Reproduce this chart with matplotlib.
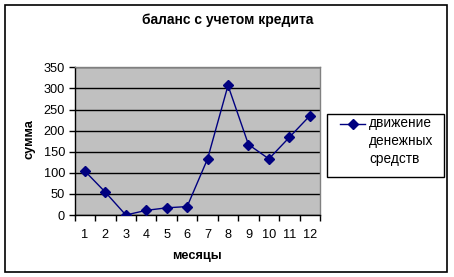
import matplotlib
matplotlib.use("Agg")
import matplotlib.pyplot as plt
from matplotlib.patches import Rectangle
from matplotlib.lines import Line2D

plt.rcParams['font.family'] = ['Liberation Sans', 'DejaVu Sans']

months = [1, 2, 3, 4, 5, 6, 7, 8, 9, 10, 11, 12]
values = [104, 54, 0, 11, 17, 20, 133, 307, 167, 133, 184, 235]
yticks = [0, 50, 100, 150, 200, 250, 300, 350]
title = "баланс с учетом кредита"
xlabel = "месяцы"
ylabel = "сумма"
series_label = "движение\nденежных\nсредств"

W, H = 454, 277
fig = plt.figure(figsize=(W / 100, H / 100), dpi=100)
fig.patch.set_facecolor('white')

def fx(px):
    return px / W

def fy(py):
    return 1 - py / H

# outer chart border
fig.add_artist(Rectangle((fx(5), fy(272)), fx(447) - fx(5), fy(5) - fy(272),
                         transform=fig.transFigure, fill=False, edgecolor='black', lw=1.2))

left, right, top, bottom = 74.7, 320, 67.3, 215
ax = fig.add_axes([fx(left), fy(bottom), fx(right) - fx(left), fy(top) - fy(bottom)])
ax.set_facecolor('#C0C0C0')

positions = list(range(len(months)))
ax.plot(positions, values, color='#000080', lw=1, marker='D', markersize=5,
        markerfacecolor='#000080', markeredgecolor='#000080', zorder=3)

ax.set_xlim(-0.5, len(months) - 0.5)
ax.set_ylim(0, 350)
ax.set_yticks(yticks)
ax.set_yticklabels([str(v) for v in yticks], fontsize=9.2)
ax.yaxis.grid(True, color='black', lw=1)
ax.set_axisbelow(True)

ax.set_xticks([p - 0.5 for p in positions] + [len(months) - 0.5])
ax.set_xticklabels([])
ax.set_xticks(positions, minor=True)
ax.set_xticklabels([str(m) for m in months], minor=True, fontsize=9.2)
ax.tick_params(axis='x', which='minor', length=0, pad=10)
ax.tick_params(axis='x', which='major', length=4, direction='out', color='black', width=1)
ax.tick_params(axis='y', length=4, direction='out', color='black', width=1, pad=3)

for s in ['top', 'right']:
    ax.spines[s].set_color('#808080')
    ax.spines[s].set_linewidth(1)
for s in ['left', 'bottom']:
    ax.spines[s].set_color('black')
    ax.spines[s].set_linewidth(1)

fig.text(fx(228), fy(20), title, ha='center', va='center', fontsize=10, fontweight='bold')
fig.text(fx(197), fy(256), xlabel, ha='center', va='center', fontsize=9.2, fontweight='bold')
fig.text(fx(29), fy(139), ylabel, ha='center', va='center', fontsize=9.2, fontweight='bold',
         rotation=90)

# legend
fig.add_artist(Rectangle((fx(327), fy(177)), fx(444) - fx(327), fy(114) - fy(177),
                         transform=fig.transFigure, fill=True, facecolor='white',
                         edgecolor='black', lw=1))
fig.add_artist(Line2D([fx(340), fx(365)], [fy(123.5), fy(123.5)], transform=fig.transFigure,
                      color='#000080', lw=1))
fig.add_artist(Line2D([fx(352.5)], [fy(123.5)], transform=fig.transFigure, color='#000080',
                      marker='D', markersize=5, markerfacecolor='#000080'))
fig.text(fx(369), fy(116), series_label, ha='left', va='top', fontsize=9.8, linespacing=1.38)

fig.savefig('out.png', dpi=100, facecolor='white')
